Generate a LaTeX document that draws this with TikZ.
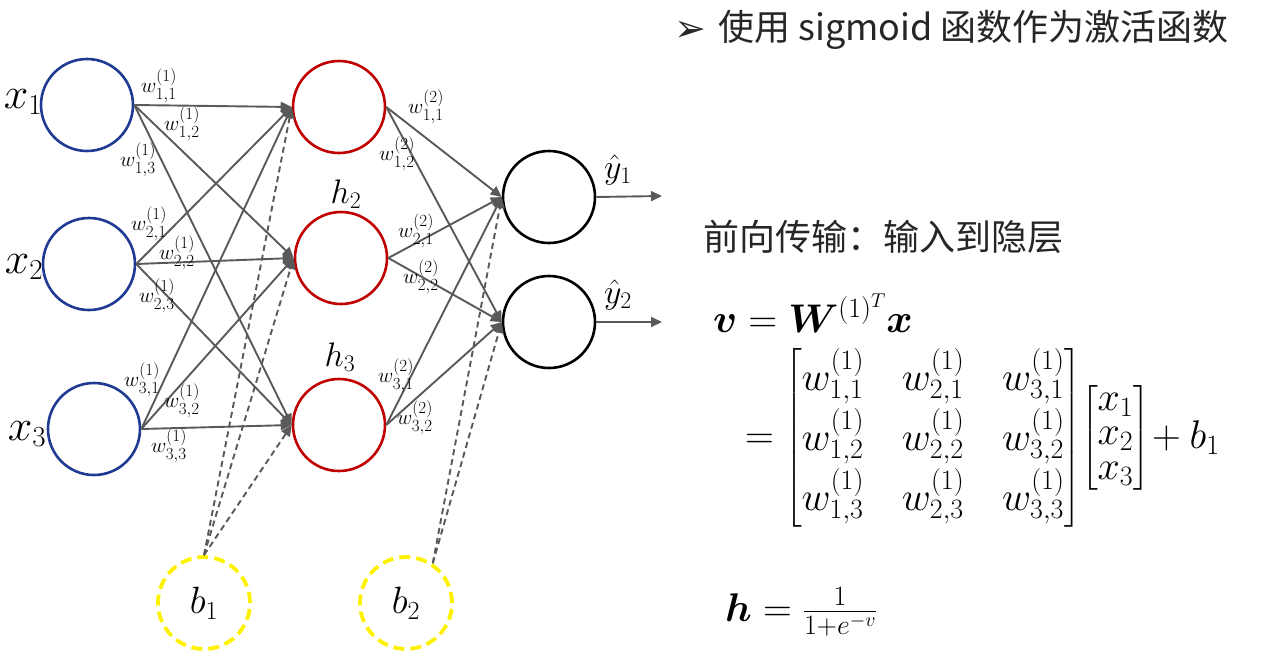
\RequirePackage{fix-cm}
\documentclass[tikz,border=0pt]{standalone}
\usepackage{amsmath,bm}
\usepackage{fontspec}
\newfontfamily\cjk{Noto Sans CJK SC}
\newfontfamily\djv{DejaVu Sans}
\usetikzlibrary{arrows.meta}
\DeclareMathSizes{21}{21}{17}{13}
\DeclareMathSizes{40}{40}{28}{20}
\DeclareMathSizes{44}{44}{29}{20}
\DeclareMathSizes{38}{38}{26}{19}
\definecolor{inblue}{HTML}{1F3A93}
\definecolor{hred}{HTML}{C00000}
\definecolor{byellow}{HTML}{FFF200}
\definecolor{linegray}{HTML}{595959}
\definecolor{textgray}{HTML}{262626}
\begin{document}
\begin{tikzpicture}[x=1pt,y=-1pt,
  neuron/.style={circle,minimum size=92pt,inner sep=0pt,line width=2.6pt},
  bias/.style={neuron,draw=byellow,line width=3.8pt,dash pattern=on 11pt off 6pt,font=\fontsize{38}{44}\selectfont},
  conn/.style={draw=linegray,line width=1.9pt,-{Triangle[length=11pt,width=10pt]}},
  bconn/.style={conn,dash pattern=on 6pt off 4pt},
  wl/.style={inner sep=0pt,font=\fontsize{21}{24}\selectfont},
  lab/.style={inner sep=0pt,font=\fontsize{44}{50}\selectfont},
  hlab/.style={inner sep=0pt,font=\fontsize{34}{40}\selectfont},
  mathl/.style={anchor=west,inner sep=0pt,font=\fontsize{40}{48}\selectfont},
  cjkt/.style={anchor=west,inner sep=0pt,text=textgray,font=\cjk\fontsize{36}{40}\selectfont},
]
\useasboundingbox (0,0) rectangle (1288,659);
% neurons
\node[neuron,draw=inblue] (x1) at (87,105) {};
\node[neuron,draw=inblue] (x2) at (89,264) {};
\node[neuron,draw=inblue] (x3) at (94,429) {};
\node[neuron,draw=hred] (h1) at (339,107) {};
\node[neuron,draw=hred] (h2) at (341,258) {};
\node[neuron,draw=hred] (h3) at (339,425) {};
\node[neuron,draw=black] (y1) at (549,197) {};
\node[neuron,draw=black] (y2) at (549,322) {};
\node[bias] (b1) at (204,603) {$b_1$};
\node[bias] (b2) at (406,603) {$b_2$};
% labels
\node[lab] (lx1) at (23,102) {$x_1$};
\node[lab] (lx2) at (24,267) {$x_2$};
\node[lab] (lx3) at (27,434) {$x_3$};
\node[hlab] (lh2) at (346,194) {$h_2$};
\node[hlab] (lh3) at (340,357) {$h_3$};
\node[hlab] (ly1) at (618,170) {$\hat{y}_1$};
\node[hlab] (ly2) at (618,295) {$\hat{y}_2$};
% input -> hidden
\foreach \i in {1,2,3}{
  \foreach \j in {1,2,3}{
    \draw[conn] (x\i.east) -- (h\j.west);
  }
}
% hidden -> output
\foreach \i in {1,2,3}{
  \foreach \j in {1,2}{
    \draw[conn] (h\i.east) -- (y\j.west);
  }
}
% bias
\foreach \j in {1,2,3}{\draw[bconn] (b1.north) -- (h\j.west);}
\foreach \j in {1,2}{\draw[bconn] (b2.56) -- (y\j.west);}
% outputs
\coordinate (o1) at (662,196);
\coordinate (o2) at (662,322);
\draw[conn] (y1.east) -- (o1);
\draw[conn] (y2.east) -- (o2);
% weight labels
\node[wl] (w111) at (159,86) {$w^{(1)}_{1,1}$};
\node[wl] (w112) at (182,124) {$w^{(1)}_{1,2}$};
\node[wl] (w113) at (138,160) {$w^{(1)}_{1,3}$};
\node[wl] (w121) at (149,224) {$w^{(1)}_{2,1}$};
\node[wl] (w122) at (177,253) {$w^{(1)}_{2,2}$};
\node[wl] (w123) at (157,296) {$w^{(1)}_{2,3}$};
\node[wl] (w131) at (142,380) {$w^{(1)}_{3,1}$};
\node[wl] (w132) at (182,401) {$w^{(1)}_{3,2}$};
\node[wl] (w133) at (169,446) {$w^{(1)}_{3,3}$};
\node[wl] (w211) at (426,107) {$w^{(2)}_{1,1}$};
\node[wl] (w212) at (397,154) {$w^{(2)}_{1,2}$};
\node[wl] (w221) at (416,231) {$w^{(2)}_{2,1}$};
\node[wl] (w222) at (421,277) {$w^{(2)}_{2,2}$};
\node[wl] (w231) at (396,376) {$w^{(2)}_{3,1}$};
\node[wl] (w232) at (415,418) {$w^{(2)}_{3,2}$};
% right side text
\node[anchor=west,inner sep=0pt,text=textgray,font=\djv\fontsize{38}{42}\selectfont] (bul) at (674,31) {➢};
\node[cjkt] (t1) at (718,30) {使用 sigmoid 函数作为激活函数};
\node[cjkt] (t2) at (703,237) {前向传输：输入到隐层};
\node[mathl] (eq1) at (713,313) {$\bm{v} = \bm{W}^{(1)^{T}}\bm{x}$};
\node[mathl] (eq2) at (745,438) {$=\setlength{\arraycolsep}{19pt}\renewcommand{\arraystretch}{1.25}\begin{bmatrix}
w^{(1)}_{1,1} & w^{(1)}_{2,1} & w^{(1)}_{3,1}\\
w^{(1)}_{1,2} & w^{(1)}_{2,2} & w^{(1)}_{3,2}\\
w^{(1)}_{1,3} & w^{(1)}_{2,3} & w^{(1)}_{3,3}
\end{bmatrix}\!{\setlength{\arraycolsep}{2pt}\renewcommand{\arraystretch}{0.72}\begin{bmatrix}x_1\\x_2\\x_3\end{bmatrix}}\!+ b_1$};
\node[mathl] (eq3) at (725,612) {$\bm{h} = \frac{1}{1+e^{-v}}$};
\end{tikzpicture}
\end{document}
